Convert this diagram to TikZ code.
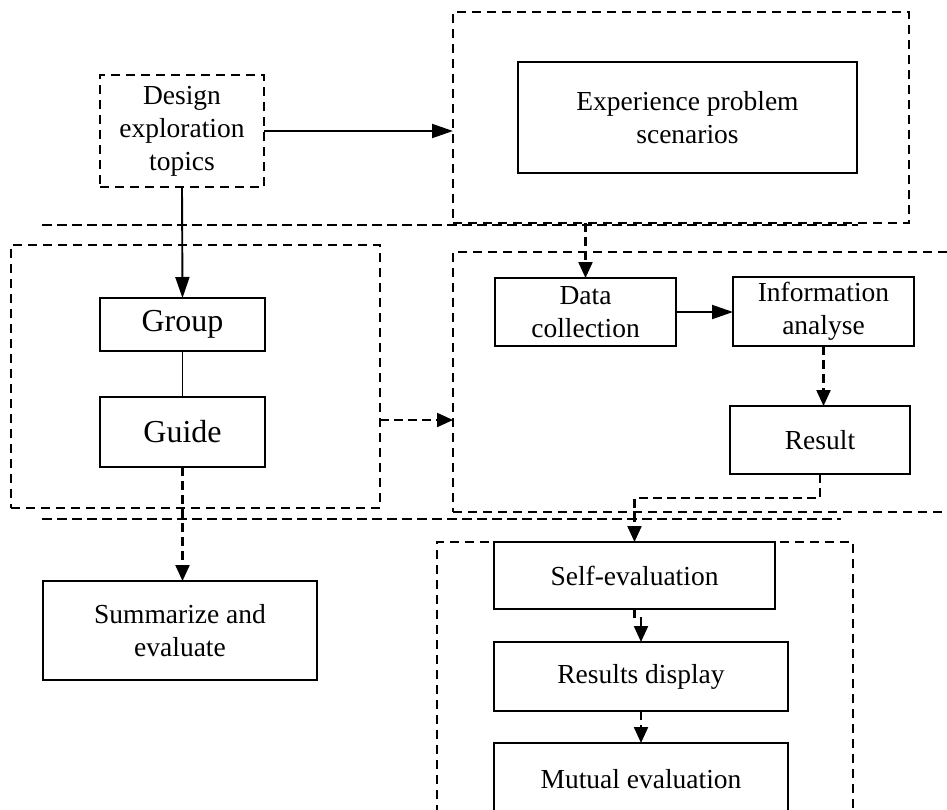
\documentclass[tikz,border=0pt]{standalone}
\usepackage{fontspec}
\setmainfont{Liberation Serif}
\usetikzlibrary{arrows.meta,calc}
\begin{document}
\begin{tikzpicture}[x=1pt,y=-1pt,
  every node/.style={inner sep=0pt,outer sep=0pt},
  box/.style={draw,line width=1.9pt,align=center,font=\fontsize{27.5}{33}\selectfont},
  bigbox/.style={draw,line width=1.9pt,align=center,font=\fontsize{32}{38}\selectfont},
  grp/.style={draw,line width=1.7pt,dash pattern=on 9pt off 6pt},
  sep/.style={line width=2pt,dash pattern=on 10pt off 5pt},
  solidarrow/.style={line width=1.9pt,-{Triangle[length=21pt,width=14pt]}},
  dasharrow/.style={line width=2.2pt,dash pattern=on 9pt off 5pt,-{Triangle[length=16pt,width=14pt]}},
  dashline/.style={line width=2.2pt,dash pattern=on 9pt off 5pt}]
\useasboundingbox (0,0) rectangle (947,809);
\clip (0,0) rectangle (947,809);
% group (dashed) boxes
\node[grp,minimum width=456pt,minimum height=211pt] (topbox) at (681,117.5) {};
\node[grp,minimum width=369pt,minimum height=263pt] (leftbox) at (195.5,376.5) {};
\node[grp,minimum width=507pt,minimum height=260pt] (midbox) at (706.5,382) {};
\node[grp,minimum width=416pt,minimum height=300pt] (botbox) at (645,692) {};
% separators
\coordinate (s1a) at (42,225); \coordinate (s1b) at (858,225);
\coordinate (s2a) at (42,519); \coordinate (s2b) at (841,519);
\draw[sep] (s1a) -- (s1b);
\draw[sep] (s2a) -- (s2b);
% nodes
\node[box,grp,minimum width=164pt,minimum height=112pt] (design) at (182,131) {Design\\exploration\\topics};
\node[box,minimum width=339pt,minimum height=111pt] (exp) at (687.5,117.5) {Experience problem\\scenarios};
\node[bigbox,minimum width=165pt,minimum height=53pt] (group) at (182.5,324.5) {Group};
\node[bigbox,minimum width=165pt,minimum height=70pt] (guide) at (182.5,432) {Guide};
\node[box,minimum width=274pt,minimum height=99pt] (summ) at (180,630.5) {Summarize and\\evaluate};
\node[box,minimum width=181pt,minimum height=68pt] (data) at (585.5,312) {Data\\collection};
\node[box,minimum width=181pt,minimum height=69pt] (info) at (823.5,311.5) {Information\\analyse};
\node[box,minimum width=180pt,minimum height=68pt] (result) at (820,440) {Result};
\node[box,minimum width=281pt,minimum height=67pt] (self) at (634.5,575.5) {Self-evaluation};
\node[box,minimum width=294pt,minimum height=69pt] (disp) at (641,676.5) {Results display};
\node[box,minimum width=294pt,minimum height=72pt] (mutual) at (641,779) {Mutual evaluation};
% connectors
\draw[solidarrow] (design.east) -- (design.east -| topbox.west);
\draw[solidarrow] (design.south) -- (group.north);
\draw[line width=1.9pt] (group.south) -- (guide.north);
\draw[dasharrow] (guide.south) -- (summ.north -| guide.south);
\coordinate (la) at (380,420);
\draw[dasharrow] (la) -- (la -| midbox.west);
\draw[dasharrow] (topbox.south -| data.north) -- (data.north);
\draw[solidarrow] (data.east) -- (info.west |- data.east);
\draw[dasharrow] (info.south) -- (result.north -| info.south);
\draw[dasharrow] (result.south) -- ++(0,24) -| (self.north);
\draw[dasharrow] (self.south) -- ++(0,9) -| (disp.north);
\draw[dasharrow] (disp.south) -- (mutual.north);
\end{tikzpicture}
\end{document}
